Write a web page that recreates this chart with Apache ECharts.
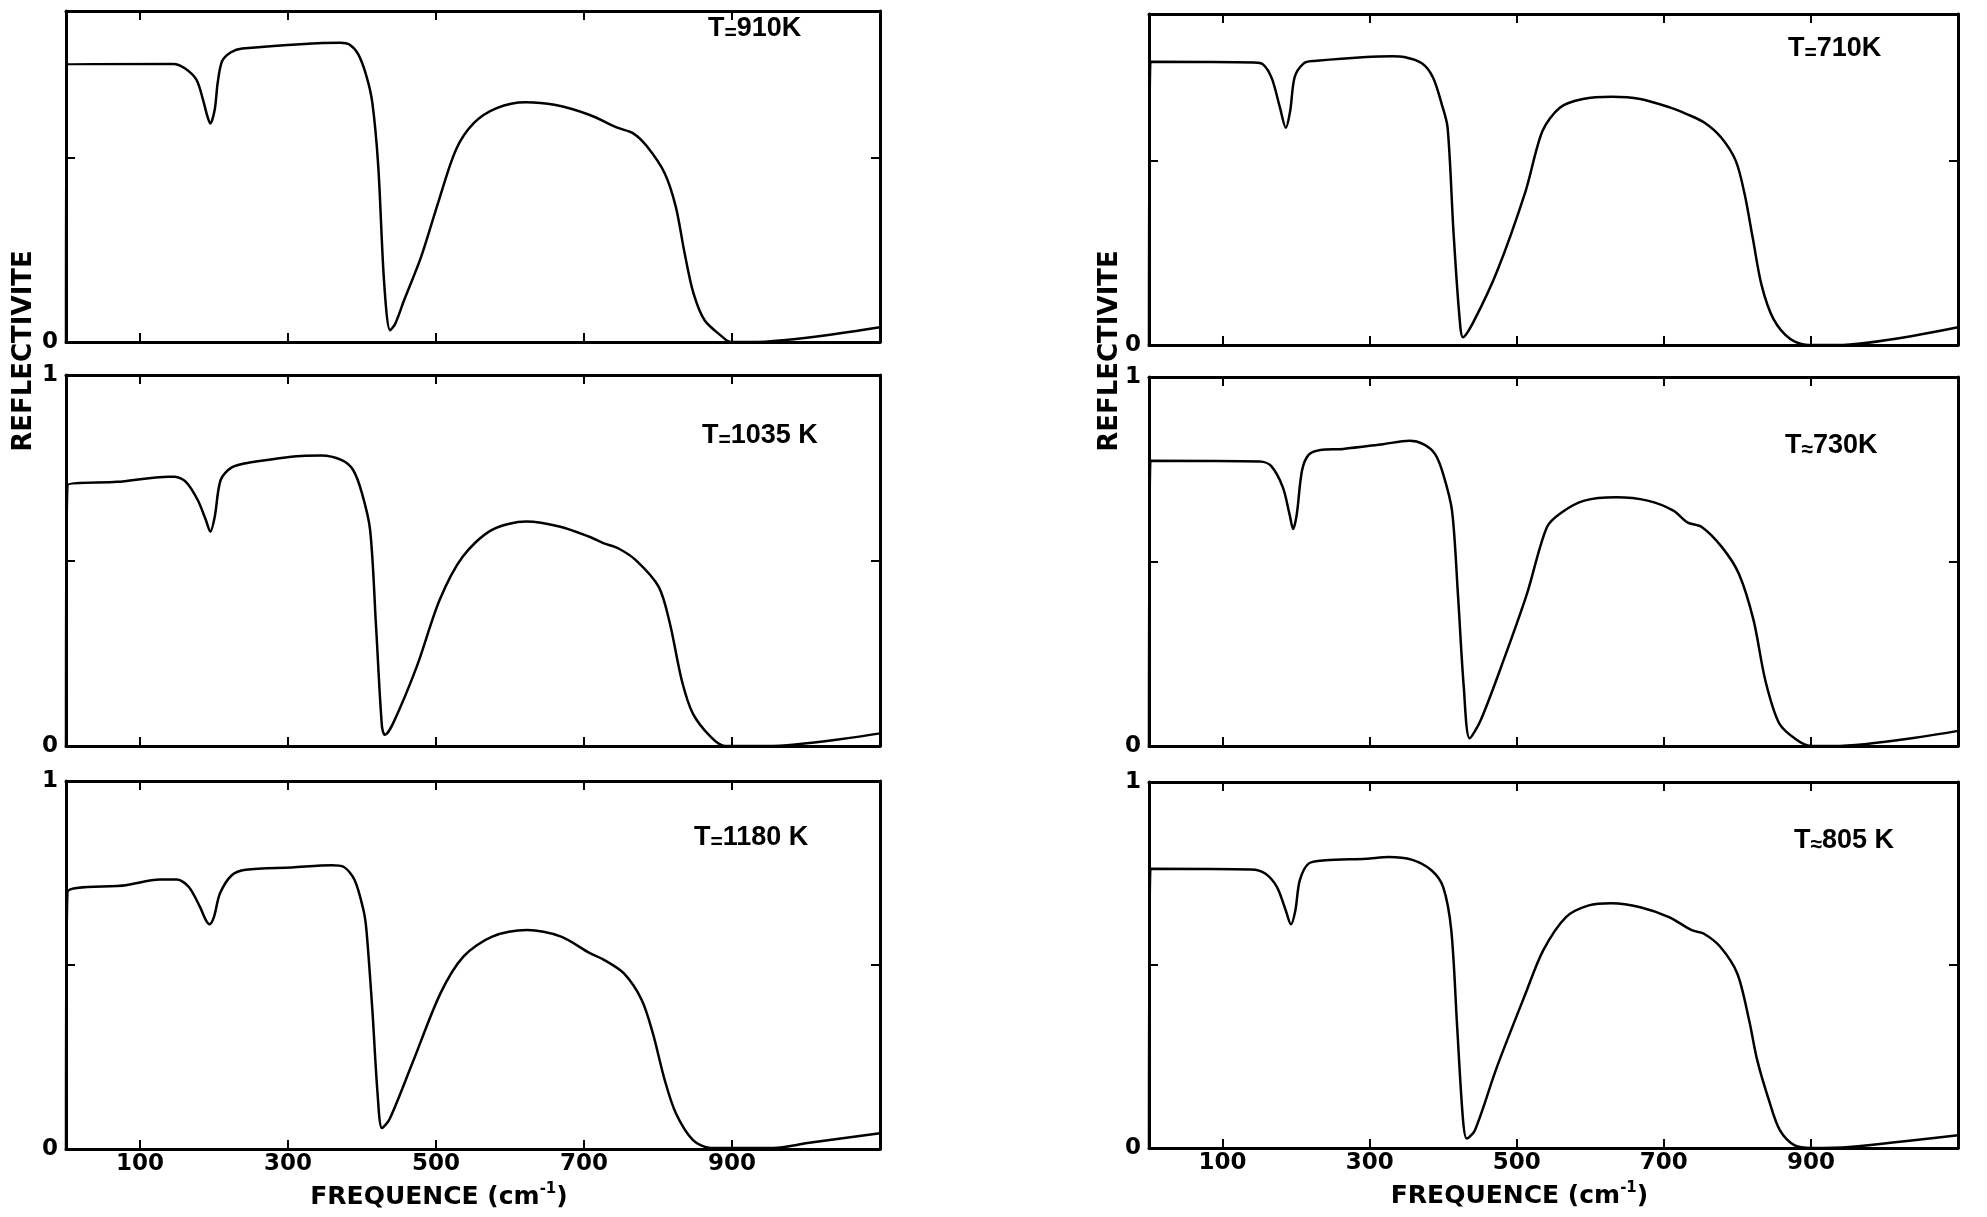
<!DOCTYPE html>
<html>
<head>
<meta charset="utf-8">
<script src="https://cdn.jsdelivr.net/npm/echarts@6/dist/echarts.min.js"></script>
<style>
html,body{margin:0;padding:0;background:#fff;}
#chart{width:1987px;height:1217px;}
</style>
</head>
<body>
<div id="chart"></div>
<script>
// ---- data (frequency in cm-1, reflectivity) ----
const xTicks = [100, 300, 500, 700, 900];
const xLabels = [100, 300, 500, 700, 900];

const f910 = [0,2,145,160,176,185,191,195,201,205,211,223,238,371,383,395,406,414,422,430,438,445,457,480,504,527,551,582,621,660,707,746,766,785,809,824,836,848,863,887,898,926,1100];
const r910 = [0,0.755,0.756,0.745,0.714,0.66,0.614,0.594,0.632,0.705,0.764,0.788,0.798,0.814,0.809,0.782,0.723,0.65,0.477,0.159,0.032,0.05,0.114,0.232,0.386,0.523,0.595,0.636,0.652,0.645,0.618,0.582,0.568,0.532,0.459,0.368,0.241,0.132,0.059,0.014,0,0,0.040];

const f1035 = [0,2,69,139,147,162,178,189,195,201,209,224,248,318,345,372,388,400,411,419,427,431,442,474,505,536,575,622,668,707,727,746,770,801,816,832,847,871,890,948,1100];
const r1035 = [0,0.703,0.712,0.726,0.726,0.712,0.663,0.609,0.578,0.618,0.717,0.751,0.764,0.782,0.783,0.771,0.744,0.681,0.582,0.322,0.052,0.030,0.061,0.214,0.394,0.510,0.582,0.605,0.591,0.564,0.546,0.533,0.501,0.429,0.331,0.178,0.088,0.025,0,0,0.034];

const f1180 = [0,2,81,127,150,166,181,189,194,200,208,224,243,305,359,375,390,402,406,414,421,427,437,468,506,537,576,623,669,708,727,754,778,793,809,824,847,871,956,1002,1100];
const r1180 = [0,0.699,0.717,0.732,0.732,0.712,0.658,0.622,0.611,0.631,0.694,0.744,0.759,0.765,0.771,0.767,0.731,0.649,0.595,0.378,0.152,0.057,0.080,0.233,0.423,0.523,0.577,0.595,0.577,0.532,0.514,0.477,0.405,0.315,0.188,0.098,0.025,0.003,0.003,0.016,0.043];

const f710 = [0,2,143,155,167,178,186,192,198,210,222,331,347,371,386,398,406,414,422,427,441,473,512,535,559,590,629,668,708,731,755,778,798,810,821,833,849,872,896,935,1100];
const r710 = [0,0.77,0.768,0.763,0.725,0.646,0.591,0.637,0.728,0.765,0.772,0.785,0.783,0.766,0.728,0.655,0.591,0.308,0.080,0.021,0.062,0.199,0.418,0.582,0.646,0.669,0.675,0.669,0.646,0.628,0.605,0.564,0.500,0.409,0.290,0.162,0.071,0.016,0,0,0.048];

const f730 = [0,2,151,166,182,191,196,201,208,217,233,264,318,354,373,389,400,412,420,428,436,451,482,514,541,561,592,635,678,713,732,752,779,802,822,838,857,881,900,931,1100];
const r730 = [0,0.773,0.771,0.759,0.701,0.629,0.588,0.629,0.746,0.789,0.802,0.805,0.818,0.827,0.818,0.791,0.737,0.638,0.413,0.160,0.021,0.070,0.232,0.413,0.593,0.633,0.665,0.674,0.665,0.638,0.606,0.593,0.539,0.467,0.341,0.178,0.061,0.016,0,0,0.041];

const f805 = [0,2,139,158,174,186,193,199,205,217,240,295,326,357,384,400,411,419,427,432,443,473,512,536,567,598,629,668,707,738,754,777,800,816,827,843,858,878,901,952,1100];
const r805 = [0,0.763,0.761,0.750,0.713,0.649,0.611,0.649,0.731,0.777,0.786,0.790,0.795,0.788,0.759,0.713,0.595,0.331,0.076,0.026,0.048,0.221,0.422,0.540,0.631,0.663,0.669,0.658,0.631,0.595,0.586,0.549,0.476,0.349,0.240,0.130,0.048,0.007,0,0.003,0.035];

const tempNames = ['910K', '1035 K', '1180 K', '710K', '730K', '805 K'];
const tempSigns = ['=', '=', '=', '=', '≈', '≈'];
const yName = 'REFLECTIVITE';

// ---- layout ----
const panels = [
  {f: f910,  r: r910,  left: 66,   width: 814, top: 11,  height: 331, ymax: 0.9, bottom: false, tx: 703,  ty: 24},
  {f: f1035, r: r1035, left: 66,   width: 814, top: 375, height: 371, ymax: 1,   bottom: false, tx: 697,  ty: 431},
  {f: f1180, r: r1180, left: 66,   width: 814, top: 781, height: 368, ymax: 1,   bottom: true,  tx: 689,  ty: 833},
  {f: f710,  r: r710,  left: 1149, width: 809, top: 14,  height: 331, ymax: 0.9, bottom: false, tx: 1783, ty: 44},
  {f: f730,  r: r730,  left: 1149, width: 809, top: 377, height: 369, ymax: 1,   bottom: false, tx: 1780, ty: 441},
  {f: f805,  r: r805,  left: 1149, width: 809, top: 782, height: 366, ymax: 1,   bottom: true,  tx: 1789, ty: 836}
];

const FONT = 'DejaVu Sans, Verdana, sans-serif';
const TFONT = 'Liberation Sans, Arial, sans-serif';
const lineStyleAxis = {color: '#000', width: 3};
const grids = [], xAxes = [], yAxes = [], series = [], titles = [];

panels.forEach((p, i) => {
  grids.push({left: p.left, top: p.top, width: p.width, height: p.height, show: false});
  const baseX = {
    type: 'value', gridIndex: i, min: 0, max: 1100,
    axisLine: {show: true, onZero: false, lineStyle: lineStyleAxis},
    axisTick: {show: true, inside: true, length: 9, lineStyle: {color: '#000', width: 2}, customValues: xTicks},
    splitLine: {show: false}
  };
  xAxes.push(Object.assign({}, baseX, {
    position: 'bottom',
    axisLabel: {show: p.bottom, customValues: xLabels, color: '#000', fontSize: 23, fontWeight: 'bold', fontFamily: FONT, margin: 4},
    name: p.bottom ? '{a|FREQUENCE (cm}{s|-1}{a|)}' : '',
    nameLocation: 'middle', nameGap: 33,
    nameTextStyle: {
      padding: [0, 68, 0, 0],
      rich: {
        a: {fontSize: 25, fontWeight: 'bold', fontFamily: FONT, color: '#000', lineHeight: 30},
        s: {fontSize: 15, fontWeight: 'bold', fontFamily: FONT, color: '#000', verticalAlign: 'top', lineHeight: 30, padding: [0, 0, 12, 0]}
      }
    }
  }));
  xAxes.push(Object.assign({}, baseX, {position: 'top', axisLabel: {show: false}}));
  const yLabelVals = p.ymax === 1 ? [0, 1] : [0];
  yAxes.push({
    type: 'value', gridIndex: i, min: 0, max: p.ymax, position: 'left',
    axisLine: {show: true, onZero: false, lineStyle: lineStyleAxis},
    axisTick: {show: true, inside: true, length: 9, lineStyle: {color: '#000', width: 2}, customValues: [0.5]},
    axisLabel: {show: true, customValues: yLabelVals, color: '#000', fontSize: 23, fontWeight: 'bold', fontFamily: FONT, margin: 8,
      formatter: v => String(Math.round(v))},
    splitLine: {show: false}
  });
  yAxes.push({
    type: 'value', gridIndex: i, min: 0, max: p.ymax, position: 'right',
    axisLine: {show: true, onZero: false, lineStyle: lineStyleAxis},
    axisTick: {show: true, inside: true, length: 9, lineStyle: {color: '#000', width: 2}, customValues: [0.5]},
    axisLabel: {show: false},
    splitLine: {show: false}
  });
  series.push({
    type: 'line', xAxisIndex: 2 * i, yAxisIndex: 2 * i,
    data: p.f.map((x, k) => [x, p.r[k]]),
    showSymbol: false, symbol: 'none',
    smooth: 0.3,
    lineStyle: {color: '#000', width: 2.5},
    silent: true, animation: false
  });
  titles.push({
    text: '{t|T}{e|' + tempSigns[i] + '}{t|' + tempNames[i] + '}',
    left: p.tx, top: p.ty - 15,
    textStyle: {rich: {
      t: {fontSize: 27, fontWeight: 'bold', fontFamily: TFONT, color: '#000', lineHeight: 30},
      e: {fontSize: 21, fontWeight: 'bold', fontFamily: TFONT, color: '#000', lineHeight: 30, verticalAlign: 'bottom', padding: [8, 0, 0, 0]}
    }}
  });
});

const graphics = [24, 1110].map(x => ({
  type: 'text', x: x, y: 351, rotation: Math.PI / 2,
  style: {text: yName, fontSize: 26, fontWeight: 'bold', fontFamily: FONT, fill: '#000', align: 'center', verticalAlign: 'middle'}
}));

const chart = echarts.init(document.getElementById('chart'), null, {renderer: 'canvas'});
chart.setOption({
  animation: false,
  backgroundColor: '#fff',
  title: titles,
  grid: grids,
  xAxis: xAxes,
  yAxis: yAxes,
  series: series,
  graphic: graphics
});
</script>
</body>
</html>
